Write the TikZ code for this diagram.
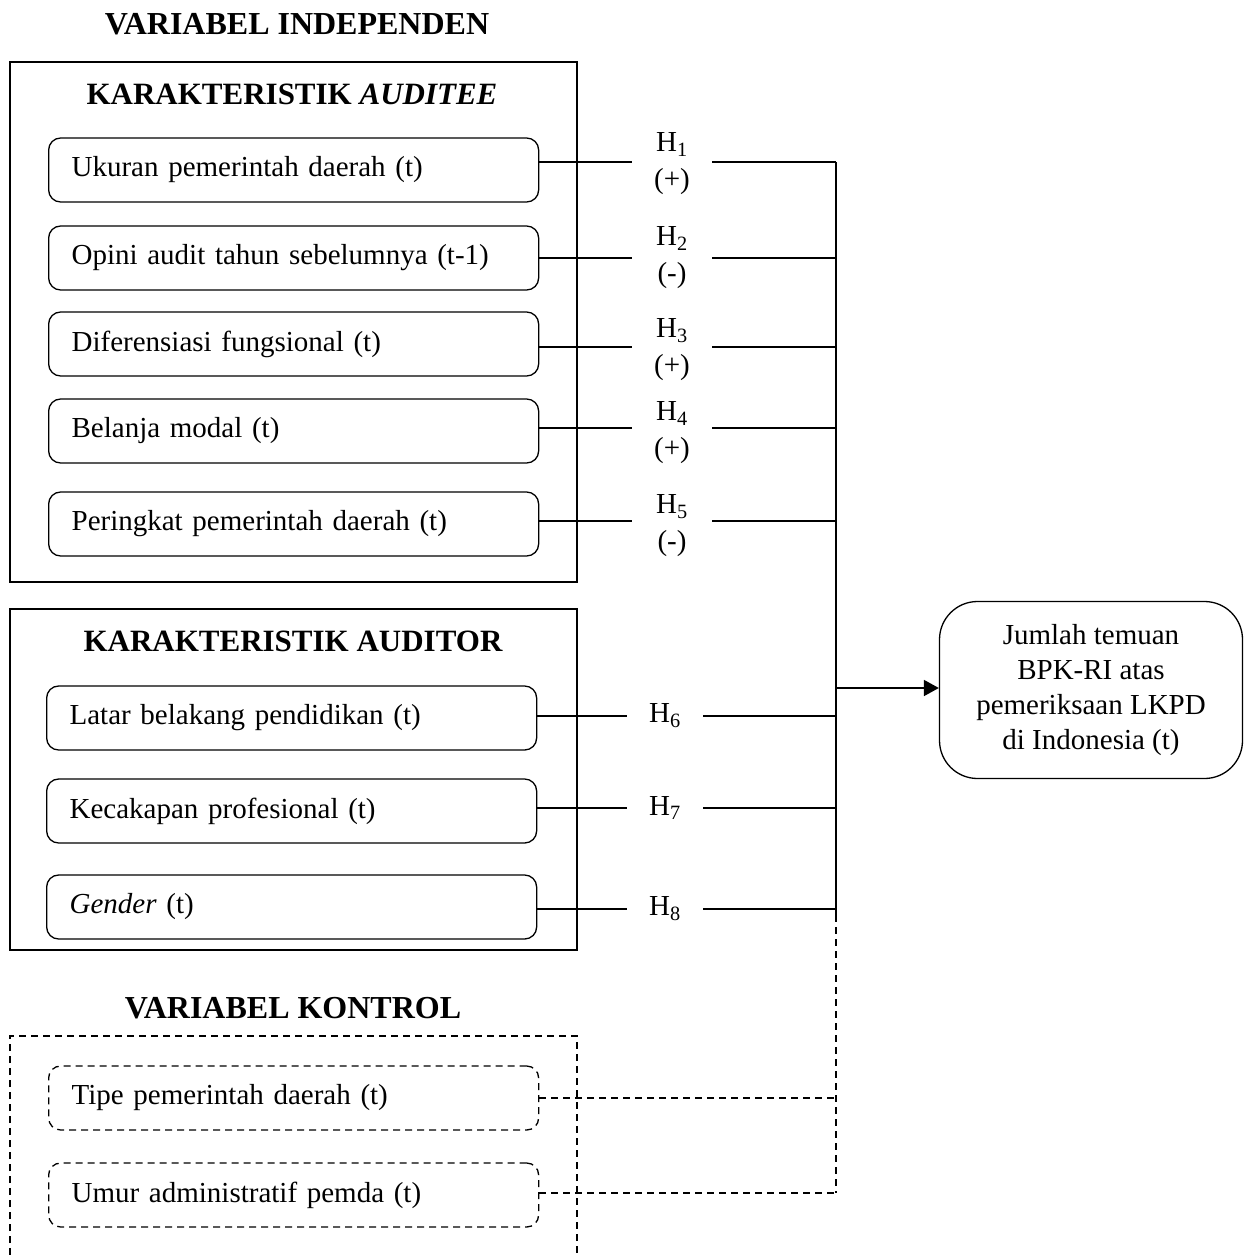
\documentclass[tikz,border=0pt]{standalone}
\usepackage{fontspec}
\setmainfont{Liberation Serif}
\usetikzlibrary{arrows.meta}
\begin{document}
\begin{tikzpicture}[x=1pt,y=-1pt,
  ttl/.style={font=\fontsize{31}{37}\selectfont\bfseries},
  frame/.style={draw,line width=1.3pt},
  varbox/.style={draw,line width=1.3pt,rounded corners=12pt,minimum height=64pt,text width=444pt,inner xsep=23pt,align=left,font=\fontsize{29}{35}\selectfont},
  dvarbox/.style={varbox,dash pattern=on 7pt off 5pt},
  hyp/.style={inner sep=0pt,minimum width=80pt,align=center,font=\fontsize{29}{37}\selectfont},
  conn/.style={line width=1.8pt},
  dconn/.style={line width=1.5pt,dash pattern=on 7pt off 5pt}]
\useasboundingbox (0,0) rectangle (1243,1255);

% titles
\node[ttl,font=\fontsize{32}{38}\selectfont\bfseries] (t1) at (297,24) {VARIABEL INDEPENDEN};
\node[ttl] (t2) at (292,94) {KARAKTERISTIK \textit{AUDITEE}};
\node[ttl] (t3) at (293,641) {KARAKTERISTIK AUDITOR};
\node[ttl,font=\fontsize{32}{38}\selectfont\bfseries] (t4) at (293,1008) {VARIABEL KONTROL};

% frames
\draw[frame] (10,62) rectangle (577,582);
\draw[frame] (10,609) rectangle (577,950);
\draw[line width=1.3pt,dash pattern=on 7pt off 5pt] (10,1255) -- (10,1036) -- (577,1036) -- (577,1255);

% variable boxes
\node[varbox,anchor=west] (b1) at (48,170) {Ukuran pemerintah daerah (t)};
\node[varbox,anchor=west] (b2) at (48,258) {Opini audit tahun sebelumnya (t-1)};
\node[varbox,anchor=west] (b3) at (48,344) {Diferensiasi fungsional (t)};
\node[varbox,anchor=west] (b4) at (48,431) {Belanja modal (t)};
\node[varbox,anchor=west] (b5) at (48,524) {Peringkat pemerintah daerah (t)};
\node[varbox,anchor=west] (b6) at (46,718) {Latar belakang pendidikan (t)};
\node[varbox,anchor=west] (b7) at (46,811) {Kecakapan profesional (t)};
\node[varbox,anchor=west] (b8) at (46,907) {\textit{Gender} (t)};
\node[dvarbox,anchor=west] (c1) at (48,1098) {Tipe pemerintah daerah (t)};
\node[dvarbox,anchor=west] (c2) at (48,1195) {Umur administratif pemda (t)};

% hypothesis labels
\node[hyp] (h1) at (672,164) {H\textsubscript{1}\\(+)};
\node[hyp] (h2) at (672,258) {H\textsubscript{2}\\(-)};
\node[hyp] (h3) at (672,350) {H\textsubscript{3}\\(+)};
\node[hyp] (h4) at (672,433) {H\textsubscript{4}\\(+)};
\node[hyp] (h5) at (672,526) {H\textsubscript{5}\\(-)};
\node[hyp,minimum width=76pt] (h6) at (665,716) {H\textsubscript{6}};
\node[hyp,minimum width=76pt] (h7) at (665,808) {H\textsubscript{7}};
\node[hyp,minimum width=76pt] (h8) at (665,909) {H\textsubscript{8}};

% dependent
\node[draw,line width=1.3pt,rounded corners=38pt,minimum width=303pt,minimum height=177pt,align=center,font=\fontsize{29}{35}\selectfont] (out) at (1091,690)
  {Jumlah temuan\\BPK-RI atas\\pemeriksaan LKPD\\di Indonesia (t)};

% bus
\coordinate (bt) at (836,162);
\coordinate (bm) at (836,688);
\coordinate (bb) at (836,915);
\coordinate (bd) at (836,1193);
\draw[conn] (bt) -- (bb);
\draw[dconn] (bb) -- (bd);
\draw[conn,-{Triangle[length=15pt,width=16pt]}] (bm) -- (bm -| out.west);

% connectors
\foreach \b/\h/\y in {b1/h1/162,b2/h2/258,b3/h3/347,b4/h4/428,b5/h5/521,b6/h6/716,b7/h7/808,b8/h8/909}{
  \draw[conn] (\b.east |- 0,\y) -- (\h.west |- 0,\y);
  \draw[conn] (\h.east |- 0,\y) -- (bt |- 0,\y);
}
\draw[dconn] (c1.east) -- (c1.east -| bt);
\draw[dconn] (c2.east |- bd) -- (bd);
\end{tikzpicture}
\end{document}
